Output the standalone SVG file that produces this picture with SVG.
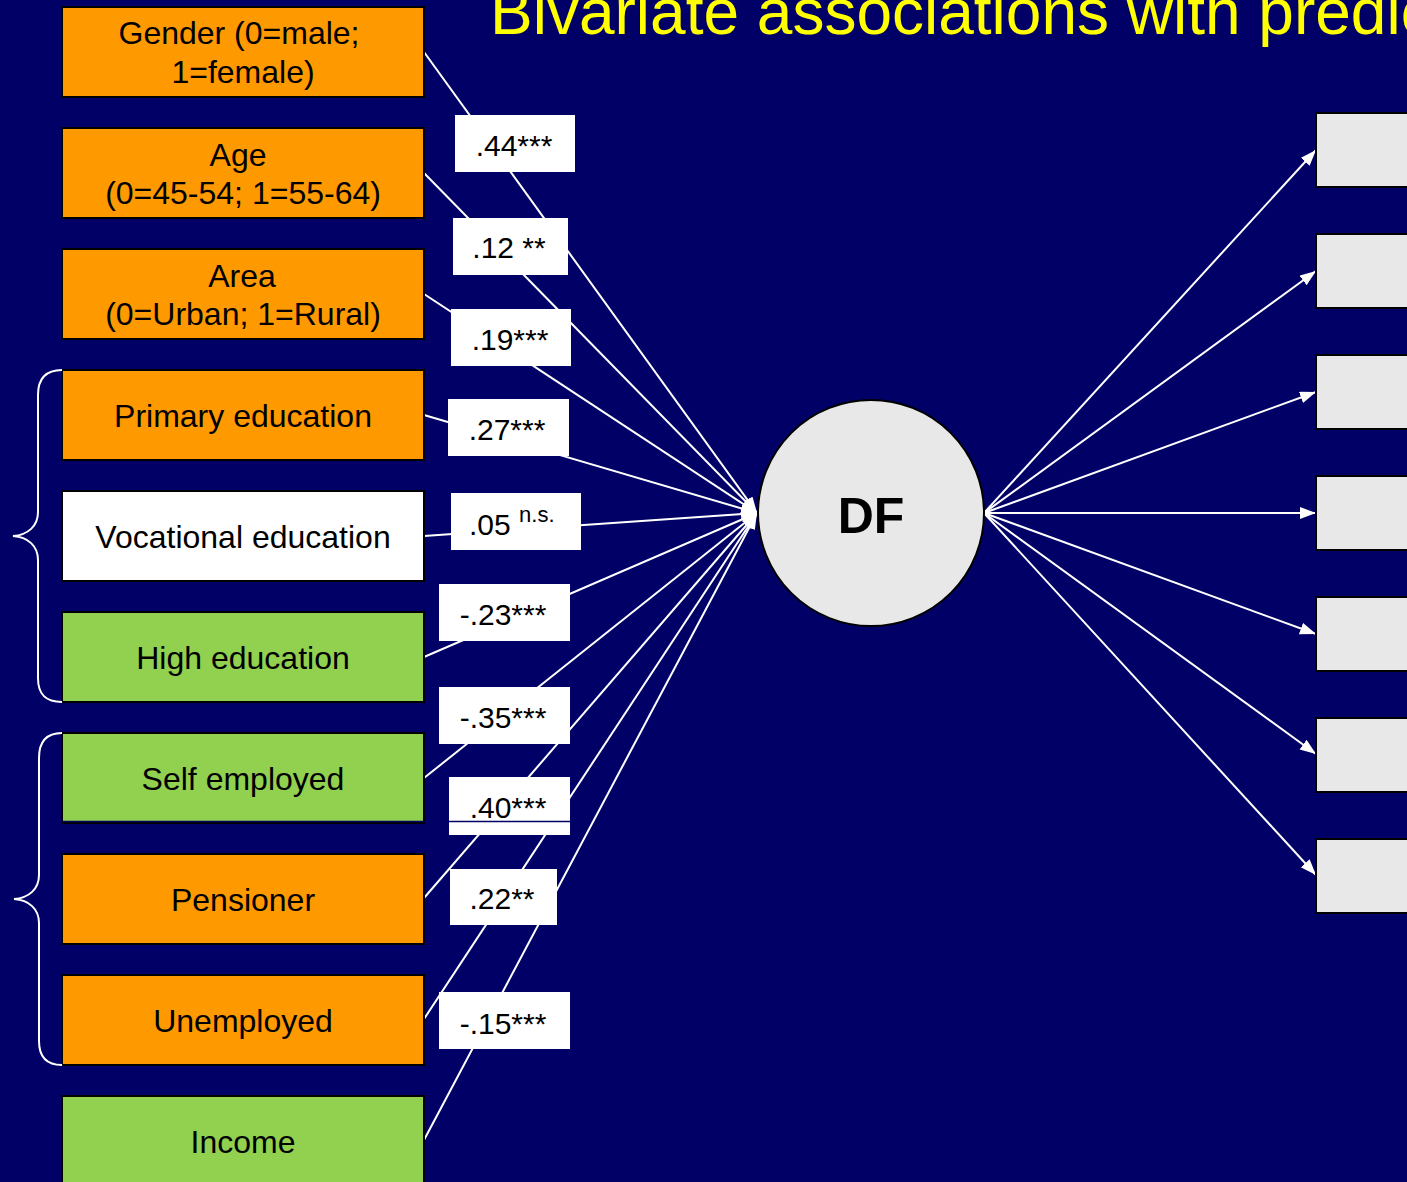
<svg xmlns="http://www.w3.org/2000/svg" width="1407" height="1182" viewBox="0 0 1407 1182">
<defs>
<style>
.bg{fill:#000066}
.box{stroke:#000;stroke-width:2}
.or{fill:#FF9900}
.gr{fill:#92D050}
.wh{fill:#FFFFFF}
.rb{fill:#E8E8E8;stroke:#000;stroke-width:2}
.t{font-family:"Liberation Sans",Arial,sans-serif;font-size:32px;fill:#000;text-anchor:middle}
.lbl{fill:#fff}
.lt{font-family:"Liberation Sans",Arial,sans-serif;font-size:30px;fill:#000;text-anchor:middle}
.lts{font-family:"Liberation Sans",Arial,sans-serif;font-size:30px;fill:#000;text-anchor:start}
.con{stroke:#fff;stroke-width:2;fill:none}
.brace{stroke:#fff;stroke-width:2;fill:none}
</style>
<marker id="ah" markerUnits="userSpaceOnUse" markerWidth="18" markerHeight="14" refX="16" refY="6" orient="auto">
<path d="M0,0 L16,6 L0,12 Z" fill="#fff"/>
</marker>
</defs>
<rect class="bg" x="0" y="0" width="1407" height="1182"/>
<text x="490" y="34" font-family="Liberation Sans,Arial,sans-serif" font-size="64" fill="#FFFF00">Bivariate associations with predictors</text>

<g id="connectors">
<line class="con" x1="424" y1="52" x2="757" y2="513" marker-end="url(#ah)"/>
<line class="con" x1="424" y1="173" x2="757" y2="513" marker-end="url(#ah)"/>
<line class="con" x1="424" y1="294" x2="757" y2="513" marker-end="url(#ah)"/>
<line class="con" x1="424" y1="415" x2="757" y2="513" marker-end="url(#ah)"/>
<line class="con" x1="424" y1="536" x2="757" y2="513" marker-end="url(#ah)"/>
<line class="con" x1="424" y1="657" x2="757" y2="513" marker-end="url(#ah)"/>
<line class="con" x1="424" y1="778" x2="757" y2="513" marker-end="url(#ah)"/>
<line class="con" x1="424" y1="898" x2="757" y2="513" marker-end="url(#ah)"/>
<line class="con" x1="424" y1="1019" x2="757" y2="513" marker-end="url(#ah)"/>
<line class="con" x1="424" y1="1140" x2="757" y2="513" marker-end="url(#ah)"/>
<line class="con" x1="984" y1="513" x2="1316" y2="150" marker-end="url(#ah)"/>
<line class="con" x1="984" y1="513" x2="1316" y2="271" marker-end="url(#ah)"/>
<line class="con" x1="984" y1="513" x2="1316" y2="392" marker-end="url(#ah)"/>
<line class="con" x1="984" y1="513" x2="1316" y2="513" marker-end="url(#ah)"/>
<line class="con" x1="984" y1="513" x2="1316" y2="634" marker-end="url(#ah)"/>
<line class="con" x1="984" y1="513" x2="1316" y2="754" marker-end="url(#ah)"/>
<line class="con" x1="984" y1="513" x2="1316" y2="875" marker-end="url(#ah)"/>
</g>

<g id="labels">
<rect class="lbl" x="455" y="115" width="120" height="57"/><text class="lt" x="514" y="156">.44***</text>
<rect class="lbl" x="453" y="218" width="115" height="57"/><text class="lt" x="509" y="258">.12 **</text>
<rect class="lbl" x="451" y="309" width="120" height="57"/><text class="lt" x="510" y="350">.19***</text>
<rect class="lbl" x="448" y="399" width="121" height="57"/><text class="lt" x="507" y="440">.27***</text>
<rect class="lbl" x="451" y="493" width="130" height="57"/><text class="lts" x="469" y="535">.05 <tspan font-size="22" dy="-13">n.s.</tspan></text>
<rect class="lbl" x="439" y="584" width="131" height="57"/><text class="lt" x="503" y="625">-.23***</text>
<rect class="lbl" x="439" y="687" width="131" height="57"/><text class="lt" x="503" y="728">-.35***</text>
<rect class="lbl" x="449" y="777" width="121" height="58"/><text class="lt" x="508" y="818">.40***</text>
<rect class="lbl" x="450" y="869" width="107" height="56"/><text class="lt" x="502" y="909">.22**</text>
<rect class="lbl" x="439" y="992" width="131" height="57"/><text class="lt" x="503" y="1034">-.15***</text>
</g>

<g id="gender"><rect class="box or" x="62" y="7" width="362" height="90"/><text class="t" x="239" y="44">Gender (0=male;</text><text class="t" x="243" y="83">1=female)</text></g>
<g id="age"><rect class="box or" x="62" y="128" width="362" height="90"/><text class="t" x="238" y="166">Age</text><text class="t" x="243" y="204">(0=45-54; 1=55-64)</text></g>
<g id="area"><rect class="box or" x="62" y="249" width="362" height="90"/><text class="t" x="242" y="287">Area</text><text class="t" x="243" y="325">(0=Urban; 1=Rural)</text></g>
<g id="primary"><rect class="box or" x="62" y="370" width="362" height="90"/><text class="t" x="243" y="427">Primary education</text></g>
<g id="vocational"><rect class="box wh" x="62" y="491" width="362" height="90"/><text class="t" x="243" y="548">Vocational education</text></g>
<g id="high"><rect class="box gr" x="62" y="612" width="362" height="90"/><text class="t" x="243" y="669">High education</text></g>
<g id="selfemployed"><rect class="box gr" x="62" y="733" width="362" height="90"/><text class="t" x="243" y="790">Self employed</text></g>
<g id="pensioner"><rect class="box or" x="62" y="854" width="362" height="90"/><text class="t" x="243" y="911">Pensioner</text></g>
<g id="unemployed"><rect class="box or" x="62" y="975" width="362" height="90"/><text class="t" x="243" y="1032">Unemployed</text></g>
<g id="income"><rect class="box gr" x="62" y="1096" width="362" height="92"/><text class="t" x="243" y="1153">Income</text></g>

<line x1="62" y1="821.5" x2="570" y2="821.5" stroke="#000066" stroke-width="1.5"/>

<g id="braces">
<path class="brace" d="M62,370 C45,370 38,380 38,395 L38,512 C38,526 28,535 13,536 C28,537 38,546 38,560 L38,678 C38,694 45,702 62,702"/>
<path class="brace" d="M62,733 C45,733 39,743 39,758 L39,875 C39,889 29,898 14,899 C29,900 39,909 39,923 L39,1041 C39,1057 46,1065 62,1065"/>
</g>

<g id="df"><circle cx="871" cy="513" r="113" fill="#E8E8E8" stroke="#000" stroke-width="2"/><text x="871" y="533" font-family="Liberation Sans,Arial,sans-serif" font-size="50" font-weight="bold" text-anchor="middle" fill="#000">DF</text></g>

<g id="out1"><rect class="rb" x="1316" y="113" width="100" height="74"/></g>
<g id="out2"><rect class="rb" x="1316" y="234" width="100" height="74"/></g>
<g id="out3"><rect class="rb" x="1316" y="355" width="100" height="74"/></g>
<g id="out4"><rect class="rb" x="1316" y="476" width="100" height="74"/></g>
<g id="out5"><rect class="rb" x="1316" y="597" width="100" height="74"/></g>
<g id="out6"><rect class="rb" x="1316" y="718" width="100" height="74"/></g>
<g id="out7"><rect class="rb" x="1316" y="839" width="100" height="74"/></g>
</svg>
